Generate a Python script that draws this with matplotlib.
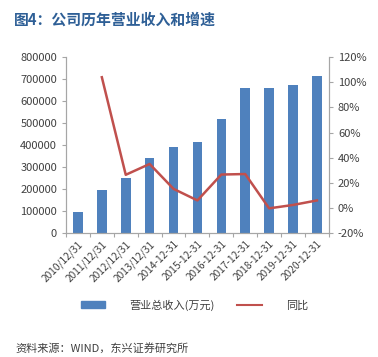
import matplotlib
matplotlib.use("Agg")
import matplotlib.pyplot as plt
from matplotlib.patches import Patch
from matplotlib.lines import Line2D
from matplotlib.ticker import FuncFormatter

plt.rcParams['font.family'] = ['Noto Sans CJK SC', 'DejaVu Sans']

categories = ["2010/12/31", "2011/12/31", "2012/12/31", "2013/12/31", "2014-12-31",
              "2015-12-31", "2016-12-31", "2017-12-31", "2018-12-31", "2019-12-31", "2020-12-31"]
revenue = [95000, 195000, 250000, 340000, 391000, 412000, 519000, 660000, 660000, 674000, 715000]
yoy = [None, 104, 26.4, 35, 15.2, 6, 26.6, 27, -0.3, 2.4, 6]

bar_color = "#4f81bd"
line_color = "#c0504d"
axis_color = "#a6a6a6"

fig = plt.figure(figsize=(3.78, 3.57), dpi=100)
ax = fig.add_axes([0.1746, 0.347, 0.6954, 0.493])
x = list(range(len(categories)))
ax.bar(x, revenue, width=0.4, color=bar_color, zorder=2)
ax.set_xlim(-0.5, len(categories) - 0.5)
ax.set_ylim(0, 800000)
ax.set_yticks(range(0, 800001, 100000))
ax.yaxis.set_major_formatter(FuncFormatter(lambda v, p: f"{int(v)}"))

ax2 = ax.twinx()
xs = [i for i, v in enumerate(yoy) if v is not None]
ys = [v for v in yoy if v is not None]
ax2.plot(xs, ys, color=line_color, lw=1.8, zorder=3)
ax2.set_ylim(-20, 120)
ax2.set_yticks(range(-20, 121, 20))
ax2.yaxis.set_major_formatter(FuncFormatter(lambda v, p: f"{int(v)}%"))

for a in (ax, ax2):
    a.spines['top'].set_visible(False)
    for s in ('left', 'right', 'bottom'):
        a.spines[s].set_color(axis_color)
        a.spines[s].set_linewidth(0.8)
    a.tick_params(axis='y', colors=axis_color, labelcolor='#404040', labelsize=8, length=3, width=0.8)

ax.set_xticks(x)
ax.set_xticklabels(categories, rotation=45, ha='right', va='top', rotation_mode='anchor', fontsize=7.3, color='#404040')
ax.tick_params(axis='x', length=0, pad=4)
ax.set_xticks([i + 0.5 for i in range(-1, len(categories))], minor=True)
ax.tick_params(axis='x', which='minor', length=3, width=0.8, color=axis_color)

fig.text(0.037, 0.944, "图4：公司历年营业收入和增速", fontsize=10.7, fontweight='bold', color='#2e5f96', va='center')

handles = [Patch(color=bar_color), Line2D([0], [0], color=line_color, lw=1.5)]
fig.legend(handles, ["营业总收入(万元)", "同比"], loc='center', bbox_to_anchor=(0.515, 0.146), ncol=2,
           frameon=False, fontsize=8, handlelength=2.2, handleheight=0.5, handletextpad=2.2,
           columnspacing=2.0, labelcolor='#404040')

fig.text(0.04, 0.024, "资料来源：WIND，东兴证券研究所", fontsize=8, color='#404040', va='center', style='italic')

fig.savefig("out.png", dpi=100)
